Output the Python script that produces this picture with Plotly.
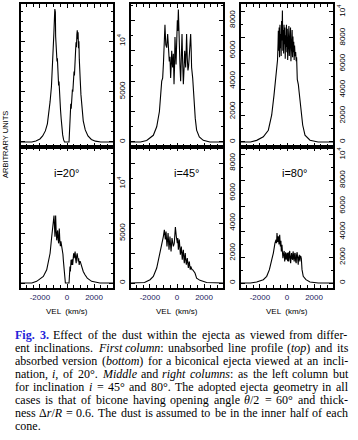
import re
import plotly.graph_objects as go

# ---------------- data ----------------
vel_i20_unabs = [-3400, -2600, -2300, -2000, -1800, -1600, -1450, -1350, -1250, -1150, -1080, -1020, -970, -930, -900,
                 -880, -860, -840, -810, -790, -770, -740, -710, -680, -650, -620, -590, -560, -520, -480, -430, -380,
                 -320, -250, -180, 150, 200, 240, 280, 310, 340, 370, 400, 430, 460, 490, 520, 550, 580, 610, 640, 670,
                 700, 730, 760, 790, 820, 850, 880, 910, 940, 980, 1030, 1100, 1200, 1350, 1550, 1800, 2100, 2500, 3400]
flux_i20_unabs = [0, 0, 100, 300, 600, 1100, 1800, 2800, 4000, 5500, 7200, 9000, 10800, 12200, 13200,
                  12400, 12900, 10500, 9800, 8600, 9000, 8000, 8300, 7200, 6900, 5600, 6000, 4800, 4200, 3200, 2300, 1400,
                  700, 200, 0, 0, 1800, 2600, 3800, 3300, 4200, 4000, 5200, 5000, 6100, 5800, 7000, 6600, 8200, 7800, 9200,
                  9900, 9400, 10700, 11100, 10200, 10900, 9300, 10000, 8200, 7600, 6100, 4700, 3300, 2100, 1200, 600, 250,
                  80, 0, 0]

vel_i45_unabs = [-3400, -2700, -2240, -1750, -1500, -1300, -1130, -1060, -1000, -940, -890, -830, -760, -690, -630,
                 -570, -520, -470, -430, -390, -350, -320, -270, -220, -180, -150, -110, -70, -20, 25, 60, 100, 140, 170,
                 220, 270, 320, 370, 420, 470, 520, 570, 610, 640, 680, 710, 760, 810, 860, 910, 960, 1010, 1050, 1080,
                 1160, 1250, 1350, 1450, 1650, 1940, 2430, 3400]
flux_i45_unabs = [0, 0, 100, 440, 1000, 2000, 4000, 4200, 5200, 6500, 7700, 6400, 6200, 7100, 6000,
                  5300, 5600, 4200, 5000, 6000, 5200, 4900, 5800, 3800, 5000, 6900, 6000, 5100, 6500, 8000, 7300, 8700,
                  7500, 6000, 5000, 4000, 5500, 7100, 5200, 3800, 4800, 6000, 5400, 4900, 6100, 7100, 5500, 4700, 5000,
                  5600, 6200, 7100, 6000, 4900, 4200, 2700, 1550, 780, 330, 110, 0, 0]

vel_i80_unabs = [-3400, -2700, -2240, -1750, -1380, -1130, -960, -810, -740, -700, -660, -640, -610, -580, -550,
                 -520, -490, -460, -430, -400, -370, -340, -310, -280, -250, -220, -190, -160, -130, -100, -70, -40,
                 -10, 20, 50, 80, 110, 140, 170, 200, 230, 260, 290, 320, 350, 380, 410, 440, 470, 500, 530, 560, 600,
                 640, 680, 710, 760, 840, 900, 1010, 1160, 1330, 1700, 2300, 3400]
flux_i80_unabs = [0, 0, 120, 390, 900, 2070, 3600, 4900, 5700, 6300, 7600, 8550, 7000, 8800, 6500,
                  9000, 7200, 8300, 6600, 9300, 7800, 10100, 7000, 8600, 6800, 9000, 7500, 8800, 6400, 8200, 7300, 9000,
                  6900, 8700, 6300, 8500, 7600, 8900, 6600, 8400, 7200, 8800, 6200, 7900, 6800, 8600, 6500, 8100, 6900,
                  7700, 6300, 7400, 6600, 6900, 6200, 6500, 4800, 4400, 3800, 2850, 1300, 520, 130, 0, 0]

vel_i20_abs = [-3400, -2600, -2240, -1750, -1500, -1380, -1250, -1130, -1060, -1000, -960, -930, -890, -860, -840,
               -800, -760, -720, -690, -650, -620, -590, -570, -530, -490, -450, -420, -380, -340, -300, -270, -230,
               -200, -150, -120, 150, 190, 220, 250, 270, 300, 340, 380, 420, 450, 490, 530, 570, 600, 640, 680, 710,
               750, 790, 830, 860, 900, 930, 970, 1010, 1060, 1110, 1200, 1330, 1500, 1820, 2430, 3400]
flux_i20_abs = [0, 0, 170, 670, 1330, 2000, 3000, 4660, 6000, 6300, 6800, 6100, 4660, 5900, 6800,
                5200, 4300, 5000, 5300, 4400, 4000, 4700, 5500, 4300, 3700, 4200, 4000, 3600, 3300, 2900, 2300, 1700,
                1000, 300, 0, 0, 1200, 1670, 1170, 1900, 2330, 1830, 2400, 1830, 2600, 3000, 2500, 2900, 3160, 2400,
                2000, 2700, 3000, 2600, 2170, 2500, 1830, 2100, 2200, 2000, 1700, 1500, 1170, 830, 500, 170, 0, 0]

vel_i45_abs = [-3400, -2930, -2400, -1990, -1750, -1500, -1250, -1130, -1010, -935, -860, -810, -740, -660, -590,
               -520, -440, -370, -320, -270, -200, -160, -120, -50, 25, 60, 100, 170, 210, 250, 320, 360, 390, 430,
               470, 510, 540, 580, 610, 650, 690, 720, 760, 800, 840, 870, 910, 950, 980, 1020, 1060, 1110, 1160, 1250,
               1330, 1450, 1700, 2190, 2930, 3400]
flux_i45_abs = [0, 0, 40, 220, 440, 1000, 2000, 2440, 3100, 3550, 2900, 3440, 2440, 3330, 2220,
                3100, 2100, 3000, 2700, 2440, 2660, 3300, 3730, 3100, 2660, 3000, 2220, 2900, 2300, 1890, 2440, 1800,
                1550, 2000, 2220, 1600, 1330, 1800, 2000, 1500, 1220, 1500, 1660, 1300, 1000, 1300, 1440, 1100, 890,
                1110, 1000, 890, 890, 780, 670, 330, 180, 40, 0, 0]

vel_i80_abs = [-3400, -2700, -2240, -1750, -1500, -1300, -1130, -1010, -890, -810, -770, -740, -690, -640, -590,
               -540, -490, -450, -420, -370, -330, -300, -250, -210, -170, -130, -100, -60, -25, 10, 50, 90, 120, 160,
               200, 240, 270, 310, 340, 380, 420, 450, 490, 530, 570, 600, 640, 680, 710, 750, 790, 830, 860, 890, 910,
               950, 980, 1020, 1060, 1110, 1200, 1400, 1700, 2310, 3400]
flux_i80_abs = [0, 0, 80, 260, 520, 1040, 1810, 2330, 3100, 3370, 3100, 3890, 3200, 3630, 3000,
                3760, 2850, 3300, 2460, 2980, 2300, 1940, 2330, 2500, 1680, 2200, 2400, 1810, 2100, 2330, 1700, 2400,
                1680, 2200, 2500, 1800, 1550, 2100, 2330, 1900, 1810, 2460, 2000, 1680, 2300, 2330, 1700, 1550, 2200,
                2400, 1900, 1420, 2070, 1800, 2200, 1680, 2100, 2070, 1900, 1040, 520, 260, 80, 0, 0]

inclination_labels = ["i=20°", "i=45°", "i=80°"]
x_tick_vals = [-2000, 0, 2000]
x_tick_text = ["-2000", "0", "2000"]
y_tick_vals = [[0, 5000, 10000], [0, 2000, 4000, 6000, 8000], [0, 2000, 4000, 6000, 8000, 10000]]
y_tick_text = [["0", "5000", "10<sup>4</sup>"], ["0", "2000", "4000", "6000", "8000"],
               ["0", "2000", "4000", "6000", "8000", "10<sup>4</sup>"]]

# caption: #..# = blue bold, *..* = italic
caption_lines = [
    "#Fig.# #3.# Effect of the dust within the ejecta as viewed from differ-",
    "ent inclinations. *First* *column*: unabsorbed line profile (*top*) and its",
    "absorbed version (*bottom*) for a biconical ejecta viewed at an incli-",
    "nation, *i*, of 20°. *Middle* and *right* *columns*: as the left column but",
    "for inclination *i* = 45° and 80°. The adopted ejecta geometry in all",
    "cases is that of bicone having opening angle *θ*/2 = 60° and thick-",
    "ness Δ*r*/*R* = 0.6. The dust is assumed to be in the inner half of each",
    "cone.",
]

# ---------------- layout helpers ----------------
W, H = 358, 440
def px(x):
    return x / W
def py(y):
    return 1 - y / H

col_px = [(21, 113), (131, 223), (241, 333)]
row_px = [(4, 147), (147, 288)]
y_ranges = [[-500, 13700], [-330, 9070], [-390, 10600]]
x_range = [-3400, 3400]

profiles = [
    (vel_i20_unabs, flux_i20_unabs), (vel_i45_unabs, flux_i45_unabs), (vel_i80_unabs, flux_i80_unabs),
    (vel_i20_abs, flux_i20_abs), (vel_i45_abs, flux_i45_abs), (vel_i80_abs, flux_i80_abs),
]
for v, f in profiles:
    assert len(v) == len(f), (len(v), len(f))

fig = go.Figure()
layout = dict(width=W, height=H, margin=dict(l=0, r=0, t=0, b=0),
              paper_bgcolor="white", plot_bgcolor="white", showlegend=False)

tickfont_y = dict(family="Liberation Sans, Arial", size=8, color="black")
tickfont_x = dict(family="Liberation Sans, Arial", size=8, color="#22225e")

for k, (v, f) in enumerate(profiles):
    r, c = divmod(k, 3)
    idx = k + 1
    xa = "x" if idx == 1 else f"x{idx}"
    ya = "y" if idx == 1 else f"y{idx}"
    fig.add_trace(go.Scatter(x=v, y=f, mode="lines", line=dict(color="black", width=1.1),
                             xaxis=xa, yaxis=ya, hoverinfo="skip"))
    x0, x1 = col_px[c]
    y0, y1 = row_px[r]
    layout[f"xaxis{'' if idx == 1 else idx}"] = dict(
        domain=[px(x0), px(x1)], anchor=ya, range=x_range, showgrid=False, zeroline=False,
        showline=True, linecolor="black", linewidth=1.8, mirror="allticks",
        ticks="inside", ticklen=4, tickwidth=1, tickcolor="black",
        tickvals=x_tick_vals, ticktext=x_tick_text, showticklabels=(r == 1),
        tickfont=tickfont_x,
        minor=dict(ticks="inside", dtick=500, tick0=0, ticklen=3, tickwidth=1, tickcolor="black"),
    )
    layout[f"yaxis{'' if idx == 1 else idx}"] = dict(
        domain=[py(y1), py(y0)], anchor=xa, range=y_ranges[c], side="right", showgrid=False, zeroline=False,
        showline=True, linecolor="black", linewidth=1.8, mirror="allticks",
        ticks="inside", ticklen=4, tickwidth=1, tickcolor="black",
        tickvals=y_tick_vals[c], ticktext=y_tick_text[c], tickangle=-90, tickfont=tickfont_y,
        minor=dict(ticks="inside", dtick=1000, tick0=0, ticklen=2.5, tickwidth=1, tickcolor="black"),
    )

annotations = []
annotations.append(dict(x=px(5), y=py(145), xref="paper", yref="paper", text="ARBITRARY UNITS", textangle=-90,
                        showarrow=False, font=dict(family="Liberation Sans, Arial", size=7.5, color="black"),
                        xanchor="center", yanchor="middle"))
for c, lab in enumerate(inclination_labels):
    xc = [67, 187, 295][c]
    annotations.append(dict(x=px(xc), y=py(173), xref="paper", yref="paper", text=lab, showarrow=False,
                            font=dict(family="Liberation Sans, Arial", size=11, color="black"),
                            xanchor="center", yanchor="middle"))
    annotations.append(dict(x=px((col_px[c][0] + col_px[c][1]) / 2), y=py(311), xref="paper", yref="paper",
                            text="VEL  (km/s)", showarrow=False,
                            font=dict(family="Liberation Sans, Arial", size=8, color="black"),
                            xanchor="center", yanchor="middle"))

# ---- justified caption using Times/Liberation Serif advance widths (1/1000 em) ----
TW = {' ': 250, '!': 333, '(': 333, ')': 333, ',': 250, '-': 333, '.': 250, '/': 278, ':': 278, '=': 564,
      '°': 400, 'Δ': 612, 'θ': 500}
for ch in '0123456789':
    TW[ch] = 500
TW.update(dict(A=722, B=667, C=667, D=722, E=611, F=556, G=722, H=722, I=333, J=389, K=722, L=611, M=889,
               N=722, O=722, P=556, Q=722, R=667, S=556, T=611, U=722, V=722, W=944, X=722, Y=722, Z=611,
               a=444, b=500, c=444, d=500, e=444, f=333, g=500, h=500, i=278, j=278, k=500, l=278, m=778,
               n=500, o=500, p=500, q=500, r=333, s=389, t=278, u=500, v=500, w=722, x=500, y=500, z=444))
TW_IT = dict(TW)
TW_IT.update(dict(F=611, M=833, R=611, a=500, f=278, k=444, m=722, r=389, v=444, w=667, x=444, y=444))
TW_BD = dict(TW)
TW_BD.update(dict(F=611, g=500, i=278))
CAP_SIZE = 12
CAP_LEFT, CAP_RIGHT = 15, 348

def word_width(w):
    total = 0
    for seg in re.split(r'(\*[^*]+\*|#[^#]+#)', w):
        if not seg:
            continue
        if seg.startswith('*'):
            table, txt = TW_IT, seg[1:-1]
        elif seg.startswith('#'):
            table, txt = TW_BD, seg[1:-1]
        else:
            table, txt = TW, seg
        total += sum(table.get(ch, 500) for ch in txt)
    return total / 1000 * CAP_SIZE

def word_markup(w):
    w = re.sub(r'#([^#]+)#', r"<span style='color:#2323d8'><b>\1</b></span>", w)
    w = re.sub(r'\*([^*]+)\*', r'<i>\1</i>', w)
    return w

cap_font = dict(family="Liberation Serif, Times New Roman", size=CAP_SIZE, color="black")
for i, line in enumerate(caption_lines):
    yc = py(335 + 13 * i)
    words = line.split(' ')
    widths = [word_width(w) for w in words]
    last = (i == len(caption_lines) - 1)
    if last or len(words) == 1:
        gap = TW[' '] / 1000 * CAP_SIZE
    else:
        gap = (CAP_RIGHT - CAP_LEFT - sum(widths)) / (len(words) - 1)
    xpos = CAP_LEFT
    for w, wd in zip(words, widths):
        annotations.append(dict(x=px(xpos), y=yc, xref="paper", yref="paper", text=word_markup(w),
                                showarrow=False, font=cap_font, xanchor="left", yanchor="middle",
                                borderpad=0, borderwidth=0))
        xpos += wd + gap

layout["annotations"] = annotations
fig.update_layout(**layout)
fig.write_html("out.html", config={"displayModeBar": False},
               post_script="document.body.style.margin='0px';")
